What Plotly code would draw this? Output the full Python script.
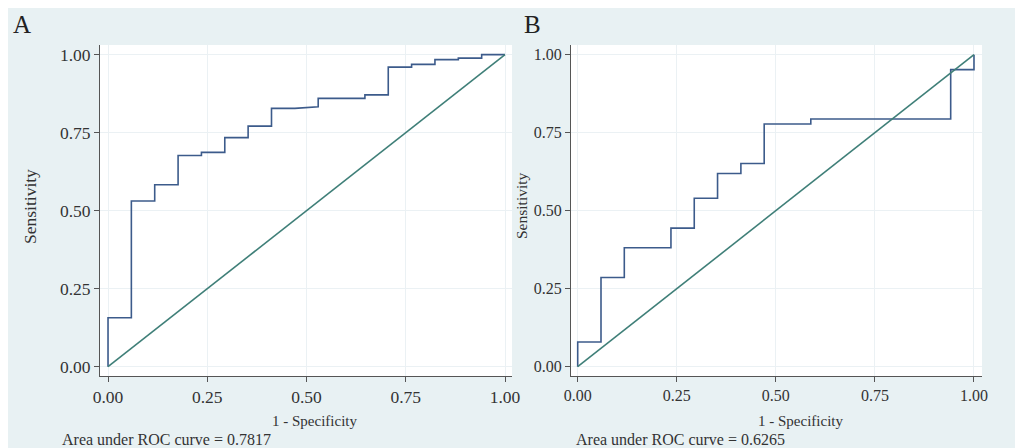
import plotly.graph_objects as go

# ---- data ----
fpr_a = [0, 0, 0.0588, 0.0588, 0.1176, 0.1176, 0.1765, 0.1765, 0.2353, 0.2353,
         0.2941, 0.2941, 0.3529, 0.3529, 0.4118, 0.4118, 0.4706, 0.5294, 0.5294,
         0.6471, 0.6471, 0.7059, 0.7059, 0.7647, 0.7647, 0.8235, 0.8235, 0.8824,
         0.8824, 0.9412, 0.9412, 1.0]
tpr_a = [0, 0.157, 0.157, 0.531, 0.531, 0.583, 0.583, 0.677, 0.677, 0.687,
         0.687, 0.734, 0.734, 0.771, 0.771, 0.828, 0.828, 0.833, 0.860,
         0.860, 0.871, 0.871, 0.960, 0.960, 0.969, 0.969, 0.984, 0.984,
         0.989, 0.989, 1.0, 1.0]

fpr_b = [0, 0, 0.0588, 0.0588, 0.1176, 0.1176, 0.2353, 0.2353, 0.2941, 0.2941,
         0.3529, 0.3529, 0.4118, 0.4118, 0.4706, 0.4706, 0.5882, 0.5882,
         0.9412, 0.9412, 1.0, 1.0]
tpr_b = [0, 0.079, 0.079, 0.286, 0.286, 0.381, 0.381, 0.444, 0.444, 0.540,
         0.540, 0.619, 0.619, 0.651, 0.651, 0.778, 0.778, 0.794, 0.794,
         0.952, 0.952, 1.0]

ref_x = [0, 1]
ref_y = [0, 1]

tick_vals = [0, 0.25, 0.5, 0.75, 1.0]
tick_text = ["0.00", "0.25", "0.50", "0.75", "1.00"]
panel_labels = ["A", "B"]
auc_text = ["Area under ROC curve = 0.7817", "Area under ROC curve = 0.6265"]
x_title = "1 - Specificity"
y_title = "Sensitivity"

# ---- layout helpers (screen pixel -> paper; page body has an 8px margin) ----
OFF = 8
W, H = 1015, 440
def px(x):
    return (x - OFF) / W
def py(y):
    return 1 - (y - OFF) / H

CURVE = "#3c5b8b"
DIAG = "#3f7f78"
BG = "#e8f1f3"
AX = "#555555"
GRID = "#ebf1f4"
FONT = "Liberation Serif"

fig = go.Figure()
fig.add_trace(go.Scatter(x=fpr_a, y=tpr_a, mode="lines", line=dict(color=CURVE, width=1.6),
                         xaxis="x", yaxis="y", showlegend=False))
fig.add_trace(go.Scatter(x=ref_x, y=ref_y, mode="lines", line=dict(color=DIAG, width=1.6),
                         xaxis="x", yaxis="y", showlegend=False))
fig.add_trace(go.Scatter(x=fpr_b, y=tpr_b, mode="lines", line=dict(color=CURVE, width=1.6),
                         xaxis="x2", yaxis="y2", showlegend=False))
fig.add_trace(go.Scatter(x=ref_x, y=ref_y, mode="lines", line=dict(color=DIAG, width=1.6),
                         xaxis="x2", yaxis="y2", showlegend=False))

def axis(domain, rng, size, anchor):
    return dict(domain=domain, range=rng, anchor=anchor, tickvals=tick_vals, ticktext=tick_text,
                showline=True, linecolor=AX, linewidth=1, ticks="outside", ticklen=5,
                tickcolor=AX, tickwidth=1, showgrid=True, gridcolor=GRID, gridwidth=1,
                zeroline=False, tickfont=dict(family=FONT, size=size, color="#333333"),
                fixedrange=True, automargin=False)

ydom = [py(376), py(45)]
fig.update_layout(
    template="none",
    width=W, height=H, margin=dict(l=0, r=0, t=0, b=0, pad=0), autosize=False,
    paper_bgcolor=BG, plot_bgcolor="white",
    xaxis=axis([px(100), px(512)], [-0.0202, 1.0176], 17.5, "y"),
    yaxis=axis(ydom, [-0.0298, 1.031], 17.5, "x"),
    xaxis2=axis([px(571), px(982)], [-0.0169, 1.0202], 16, "y2"),
    yaxis2=axis(ydom, [-0.0298, 1.031], 16, "x2"),
)

ann = []
# panel labels
ann.append(dict(x=px(11), y=py(25), text=panel_labels[0], xanchor="left", yanchor="middle",
                font=dict(family=FONT, size=25, color="#222")))
ann.append(dict(x=px(522), y=py(24), text=panel_labels[1], xanchor="left", yanchor="middle",
                font=dict(family=FONT, size=25, color="#222")))
# y titles
ann.append(dict(x=px(30), y=py(207), text=y_title, textangle=-90, xanchor="center", yanchor="middle",
                font=dict(family=FONT, size=17.5, color="#333")))
ann.append(dict(x=px(522), y=py(206), text=y_title, textangle=-90, xanchor="center", yanchor="middle",
                font=dict(family=FONT, size=15.5, color="#333")))
# x titles
ann.append(dict(x=px(314), y=py(421), text=x_title, xanchor="center", yanchor="middle",
                font=dict(family=FONT, size=15, color="#333")))
ann.append(dict(x=px(800), y=py(421), text=x_title, xanchor="center", yanchor="middle",
                font=dict(family=FONT, size=15, color="#333")))
# AUC notes
ann.append(dict(x=px(60), y=py(439), text=auc_text[0], xanchor="left", yanchor="middle",
                font=dict(family=FONT, size=16, color="#333")))
ann.append(dict(x=px(574), y=py(439), text=auc_text[1], xanchor="left", yanchor="middle",
                font=dict(family=FONT, size=16, color="#333")))
for a in ann:
    a.update(xref="paper", yref="paper", showarrow=False)
fig.update_layout(annotations=ann)

fig.write_html("out.html")
